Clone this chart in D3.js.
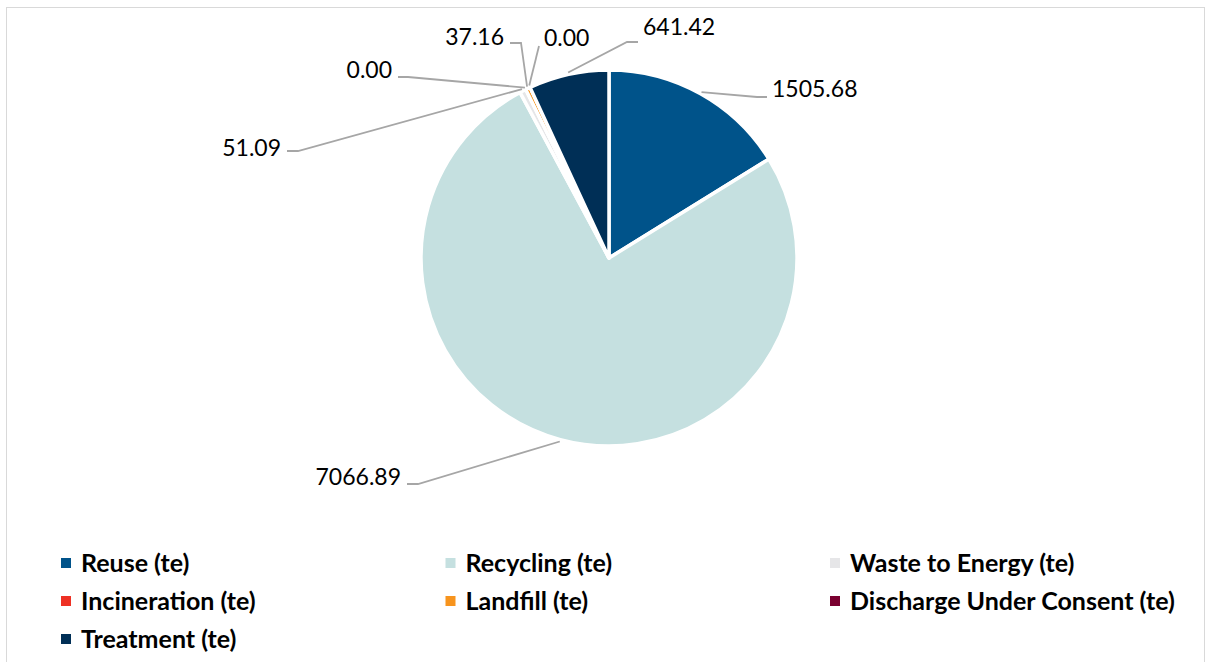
<!DOCTYPE html>
<html>
<head>
<meta charset="utf-8">
<script src="https://cdn.jsdelivr.net/npm/d3@7"></script>
<style>
  body { margin: 0; background: #fff; }
  svg { display: block; }
</style>
</head>
<body>
<svg id="chart" width="1205" height="662"></svg>
<script>
// Waste routes, tonnes
const categories = ["Reuse (te)", "Recycling (te)", "Waste to Energy (te)", "Incineration (te)",
                    "Landfill (te)", "Discharge Under Consent (te)", "Treatment (te)"];
const values = [1505.68, 7066.89, 51.09, 0.00, 37.16, 0.00, 641.42];
const colors = ["#00538A", "#C5E0E0", "#E6E6E8", "#EE3124", "#F7941D", "#7A0030", "#002F56"];

// Data-label layout: end of each leader line relative to the pie centre,
// which side the text sits on, length of the horizontal hook and text lift.
const labelEnds  = [[158, -161], [-202, 226], [-322, -107], [-211, -181], [-99, -215], [-70, -212], [29, -216]];
const labelSides = ["right", "left", "left", "left", "left", "right", "right"];
const labelHooks = [10, 11, 11, 10, 11, 0, 11];
const labelLift  = [8, 7, 3, 7, 6, 8, 15];

const W = 1205, H = 662;
const cx = 609, cy = 258, radius = 188;
const svg = d3.select("#chart");

// chart area frame
svg.append("rect")
  .attr("x", 6.5).attr("y", 7.5).attr("width", 1198).attr("height", 700)
  .attr("fill", "#fff").attr("stroke", "#D9D9D9").attr("stroke-width", 1);

const data = categories.map((c, i) => ({ name: c, value: values[i], color: colors[i], i }));
const pie = d3.pie().sort(null).value(d => d.value);
const arcs = pie(data);
const arc = d3.arc().innerRadius(0).outerRadius(radius);

const g = svg.append("g").attr("transform", `translate(${cx},${cy})`);

g.selectAll("path.slice")
  .data(arcs)
  .join("path")
  .attr("class", "slice")
  .attr("d", arc)
  .attr("fill", d => d.data.color)
  .attr("stroke", "#fff")
  .attr("stroke-width", 3.5)
  .attr("stroke-linejoin", "round");

// leader lines and value labels
const fmt = d3.format(".2f");
const labels = g.append("g");
arcs.forEach((a, k) => {
  const mid = (a.startAngle + a.endAngle) / 2;
  const r0 = radius + 2;
  const sx = r0 * Math.sin(mid), sy = -r0 * Math.cos(mid);
  const [ex, ey] = labelEnds[k];
  const side = labelSides[k];
  const hook = labelHooks[k];
  const elbowX = side === "right" ? ex - hook : ex + hook;
  labels.append("polyline")
    .attr("points", [[sx, sy], [elbowX, ey], [ex, ey]].map(p => p.join(",")).join(" "))
    .attr("fill", "none")
    .attr("stroke", "#A6A6A6")
    .attr("stroke-width", 1.8);
  labels.append("text")
    .attr("x", side === "right" ? ex + 5 : ex - 6)
    .attr("y", ey - labelLift[k])
    .attr("dy", "0.35em")
    .attr("text-anchor", side === "right" ? "start" : "end")
    .attr("font-family", "Lato, 'Open Sans', sans-serif")
    .attr("font-size", 23)
    .attr("fill", "#000")
    .text(fmt(a.data.value));
});

// legend: three columns
const legendCols = 3, colStep = 384.5, legX = 61, legY = 563, rowStep = 38;
const legend = svg.append("g");
data.forEach((d, i) => {
  const col = i % legendCols, row = Math.floor(i / legendCols);
  const x = legX + col * colStep, y = legY + row * rowStep;
  legend.append("rect")
    .attr("x", x).attr("y", y - 5).attr("width", 10).attr("height", 10)
    .attr("fill", d.color);
  legend.append("text")
    .attr("x", x + 20).attr("y", y)
    .attr("dy", "0.35em")
    .attr("font-family", "Lato, 'Open Sans', sans-serif")
    .attr("font-weight", "bold")
    .attr("font-size", 25)
    .attr("fill", "#000")
    .text(d.name);
});
</script>
</body>
</html>
